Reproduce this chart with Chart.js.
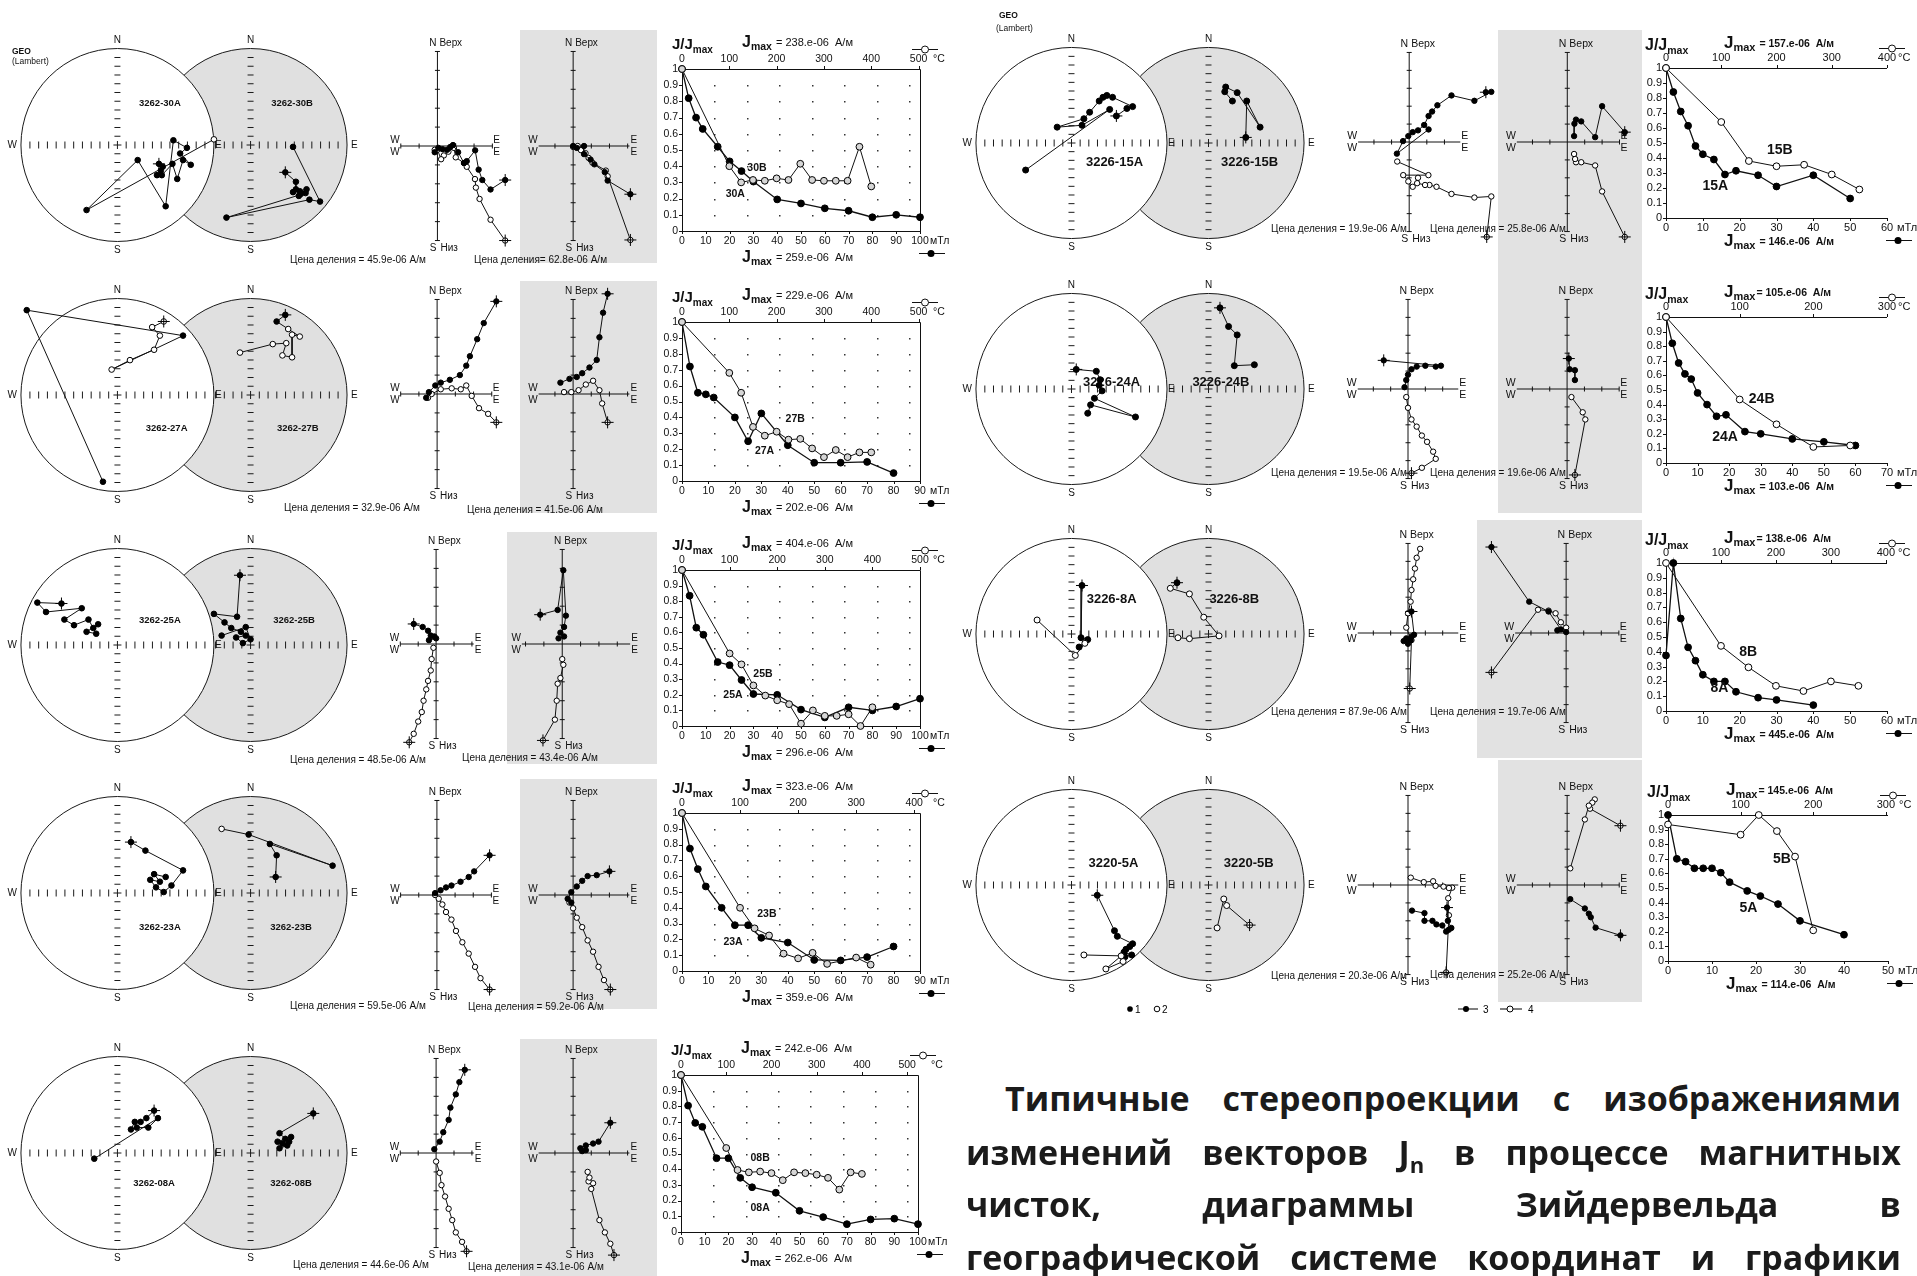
<!DOCTYPE html>
<html lang="ru">
<head>
<meta charset="utf-8">
<title>Стереопроекции, диаграммы Зийдервельда и кривые размагничивания</title>
<script src="https://cdn.jsdelivr.net/npm/chart.js@4.4.1/dist/chart.umd.min.js"></script>
<style>
html,body{margin:0;padding:0;background:#fff}
body{position:relative;width:1917px;height:1276px;overflow:hidden;font-family:"Liberation Sans",Arial,sans-serif;color:#111}
canvas,.abs{position:absolute}
.gray{background:#e2e2e2}
.cena{font-size:10px;white-space:nowrap;line-height:12px}
.geo{font-size:8.5px;line-height:10px;white-space:nowrap}
.para{position:absolute;left:966px;width:935px;font-family:"Open Sans","Noto Sans",sans-serif;font-weight:700;font-size:34px;line-height:50px;height:50px;white-space:nowrap;text-align:justify;text-align-last:justify;color:#1b1b1b}
.para sub{font-size:22px;line-height:0}
</style>
</head>
<body>
<script>
const FONT = '"Liberation Sans", Arial, sans-serif';

// ---------- stereonets: [x, y, lower hemisphere?] in units of the net radius, first = NRM ----------
const st30A = [[0.43,-0.20,1],[0.47,-0.23,1],[0.45,-0.27,1],[0.41,-0.32,1],[0.46,-0.32,1],[0.57,-0.20,1],[0.62,-0.36,1],[0.68,-0.16,1],[0.76,-0.21,1],[0.65,-0.09,1],[0.72,-0.03,1],[0.58,0.05,1],[0.50,-0.65,1],[0.21,-0.16,1],[-0.32,-0.69,1],[1.0,0.06,0]];
const st30B = [[0.36,-0.29,1],[0.47,-0.39,1],[0.47,-0.47,1],[0.51,-0.49,1],[0.44,-0.50,1],[0.58,-0.47,1],[0.52,-0.52,1],[0.50,-0.54,1],[0.57,-0.51,1],[-0.25,-0.77,1],[0.61,-0.58,1],[0.72,-0.60,1],[0.44,-0.02,1]];
const st27A = [[0.48,0.78,0],[0.36,0.72,0],[0.44,0.63,0],[0.38,0.48,0],[0.13,0.37,0],[-0.06,0.27,0],[0.68,0.63,1],[-0.94,0.90,1],[-0.15,-0.92,1]];
const st27B = [[0.36,0.85,1],[0.27,0.78,1],[0.39,0.70,0],[0.51,0.62,0],[0.43,0.64,0],[0.43,0.40,0],[0.33,0.42,0],[0.37,0.55,0],[0.23,0.54,0],[-0.11,0.45,0]];
const st25A = [[-0.58,0.44,1],[-0.83,0.45,1],[-0.74,0.35,1],[-0.37,0.39,1],[-0.55,0.27,1],[-0.45,0.21,1],[-0.30,0.27,1],[-0.25,0.18,1],[-0.22,0.12,1],[-0.32,0.14,1],[-0.20,0.22,1]];
const st25B = [[-0.11,0.74,1],[-0.14,0.30,1],[-0.38,0.33,1],[-0.27,0.24,1],[-0.20,0.18,1],[-0.10,0.14,1],[-0.05,0.10,1],[-0.15,0.08,1],[-0.08,0.02,1],[0.0,0.06,1],[-0.05,0.19,1],[-0.30,0.10,1]];
const st23A = [[0.14,0.54,1],[0.29,0.45,1],[0.68,0.24,1],[0.56,0.08,1],[0.48,0.01,1],[0.40,0.06,1],[0.34,0.14,1],[0.44,0.12,1],[0.38,0.20,1],[0.50,0.17,1]];
const st23B = [[0.26,0.17,1],[0.27,0.40,1],[0.20,0.52,1],[0.85,0.29,1],[-0.02,0.62,1],[-0.30,0.68,0]];
const st08A = [[0.38,0.45,1],[0.30,0.37,1],[0.24,0.33,1],[0.18,0.33,1],[0.14,0.25,1],[0.20,0.27,1],[0.32,0.27,1],[0.42,0.37,1],[-0.24,-0.06,1]];
const st08B = [[0.65,0.42,1],[0.30,0.21,1],[0.36,0.15,1],[0.40,0.12,1],[0.33,0.10,1],[0.28,0.12,1],[0.42,0.17,1],[0.38,0.08,1],[0.30,0.05,1]];
const st15A = [[0.47,0.29,1],[0.58,0.37,1],[0.64,0.39,1],[0.43,0.49,1],[0.37,0.51,1],[0.33,0.49,1],[0.29,0.45,1],[0.19,0.33,1],[0.13,0.26,1],[-0.15,0.17,1],[0.11,0.19,1],[0.40,0.36,1],[-0.48,-0.29,1]];
const st15B = [[0.39,0.06,1],[0.40,0.45,1],[0.54,0.17,1],[0.30,0.54,1],[0.18,0.60,1],[0.17,0.55,1],[0.25,0.45,1]];
const st24A = [[0.05,0.21,1],[0.26,0.19,1],[0.30,0.10,1],[0.29,0.04,1],[0.32,-0.02,1],[0.24,-0.10,1],[0.67,-0.30,1],[0.20,-0.17,1],[0.17,-0.26,1]];
const st24B = [[0.12,0.87,1],[0.21,0.67,1],[0.30,0.58,1],[0.27,0.25,1],[0.48,0.26,1]];
const st8A  = [[0.11,0.52,1],[0.10,-0.04,1],[0.17,-0.06,1],[0.08,-0.14,1],[0.14,-0.10,0],[0.04,-0.23,0],[-0.36,0.15,0]];
const st8B  = [[-0.33,0.55,1],[-0.40,0.49,0],[-0.20,0.43,0],[-0.05,0.18,0],[0.11,-0.02,0],[-0.20,-0.05,0],[-0.32,-0.04,0]];
const st5A  = [[0.27,-0.11,1],[0.45,-0.49,1],[0.48,-0.55,1],[0.64,-0.63,1],[0.61,-0.66,1],[0.57,-0.69,1],[0.55,-0.72,1],[0.63,-0.75,1],[0.56,-0.77,1],[0.54,-0.82,0],[0.36,-0.90,0],[0.52,-0.76,0],[0.13,-0.75,0]];
const st5B  = [[0.43,-0.43,0],[0.19,-0.22,0],[0.16,-0.15,0],[0.09,-0.46,0]];

// ---------- Zijderveld: horizontal (E, N) and vertical (E, Up) projections in scale divisions ----------
const zh30A = [[3.7,-1.8],[2.9,-2.3],[2.45,-1.8],[2.25,-1.25],[2.06,-0.23],[1.6,-0.8],[1.45,-0.9],[1.13,-0.33],[0.85,0.05],[0.7,-0.05],[0.53,-0.2],[0.28,-0.17],[0.05,-0.1],[-0.15,-0.33]];
const zv30A = [[3.7,-5.0],[2.9,-3.9],[2.3,-2.8],[2.1,-2.2],[2.05,-1.75],[1.6,-1.1],[1.45,-0.9],[1.0,-0.6],[0.9,-0.1],[0.6,-0.3],[0.35,-0.5],[0.2,-0.7],[0.0,-0.2],[-0.15,-0.2]];
const zh30B = [[3.15,-2.55],[1.9,-1.83],[1.74,-1.38],[1.17,-0.97],[0.96,-0.72],[0.6,-0.43],[0.6,0.0],[0.2,-0.1],[0.0,0.0]];
const zv30B = [[3.15,-4.97],[1.9,-1.6],[1.8,-1.3],[1.06,-0.88],[0.85,-0.63],[0.68,-0.38],[0.43,-0.22],[0.25,0.0],[0.0,-0.05]];
const zh27A = [[3.25,4.9],[2.56,3.75],[2.2,2.9],[1.8,2.0],[1.6,1.5],[1.25,1.0],[0.7,0.75],[0.2,0.6],[-0.1,0.45],[-0.45,0.1],[-0.6,-0.2]];
const zv27A = [[3.25,-1.5],[2.8,-1.05],[2.3,-0.75],[1.9,-0.1],[1.6,0.45],[1.3,0.25],[0.8,0.3],[0.2,0.25],[-0.3,0.0],[-0.5,-0.2]];
const zh27B = [[1.9,5.3],[1.65,4.3],[1.45,3.0],[1.3,1.8],[0.9,1.4],[0.5,1.1],[0.2,0.9],[-0.2,0.8],[-0.7,0.6]];
const zv27B = [[1.9,-1.5],[1.6,-0.5],[1.45,0.2],[1.1,0.7],[0.7,0.5],[0.3,0.2],[-0.1,0.1],[-0.5,0.1]];
const zh25A = [[-1.25,1.06],[-0.75,0.9],[-0.45,0.7],[-0.3,0.45],[-0.1,0.4],[-0.4,0.2],[0.0,0.3]];
const zv25A = [[-1.5,-5.2],[-1.25,-4.75],[-1.0,-4.1],[-0.8,-3.6],[-0.7,-3.0],[-0.55,-2.4],[-0.45,-1.95],[-0.3,-1.4],[-0.25,-0.8],[-0.15,-0.2]];
const zh25B = [[-1.2,1.55],[-0.25,1.8],[0.06,3.9],[0.2,1.5],[0.1,0.9],[-0.1,0.6],[0.1,0.4],[-0.2,0.3]];
const zv25B = [[-1.05,-5.1],[-0.4,-4.0],[-0.3,-3.0],[-0.25,-2.1],[-0.1,-1.8],[0.06,-1.1],[0.0,-0.8]];
const zh23A = [[2.9,2.1],[2.05,1.25],[1.75,0.95],[1.3,0.7],[0.8,0.5],[0.5,0.4],[0.2,0.25],[-0.1,0.1]];
const zv23A = [[2.9,-5.0],[2.4,-4.4],[2.1,-3.8],[1.75,-3.1],[1.4,-2.5],[1.05,-1.9],[0.8,-1.3],[0.5,-0.9],[0.3,-0.5],[0.1,-0.2],[-0.1,0.0]];
const zh23B = [[2.0,1.25],[1.3,1.05],[0.8,1.0],[0.5,0.75],[0.2,0.45],[-0.1,0.15],[-0.3,-0.2],[-0.1,-0.4]];
const zv23B = [[2.05,-5.0],[1.7,-4.5],[1.4,-3.8],[1.1,-3.0],[0.8,-2.4],[0.5,-1.7],[0.2,-1.2],[0.0,-0.7],[-0.2,-0.4]];
const zh08A = [[1.6,4.4],[1.3,3.75],[1.1,3.1],[0.8,2.4],[0.7,1.75],[0.4,1.1],[0.2,0.6],[-0.1,0.2]];
const zv08A = [[1.7,-5.2],[1.45,-4.7],[1.1,-4.2],[0.9,-3.55],[0.7,-2.95],[0.5,-2.3],[0.3,-1.7],[0.2,-1.05],[0.0,-0.45]];
const zh08B = [[2.05,1.6],[1.4,0.6],[1.1,0.5],[0.7,0.4],[0.4,0.25],[0.7,0.15],[0.5,0.1]];
const zv08B = [[2.25,-5.4],[2.05,-4.8],[1.75,-4.2],[1.45,-3.55],[1.0,-1.9],[1.1,-1.6],[0.85,-1.5],[0.9,-1.3],[0.8,-1.0]];
const zh15A = [[4.35,2.78],[4.66,2.8],[3.7,2.3],[2.4,2.6],[1.6,2.05],[1.3,1.7],[1.1,1.45],[0.85,0.95],[0.5,0.65],[0.2,0.55],[-0.05,0.33],[-0.35,0.05],[-0.7,-0.65],[1.1,0.7]];
const zv15A = [[4.4,-5.3],[4.66,-3.04],[3.7,-3.1],[2.4,-2.9],[1.55,-2.5],[1.15,-2.4],[0.9,-2.4],[0.45,-2.3],[0.5,-2.0],[0.2,-2.5],[-0.05,-2.2],[-0.34,-1.85],[1.09,-1.85],[-0.68,-1.09]];
const zh15B = [[3.3,0.55],[2.0,2.0],[1.6,0.27],[0.8,1.15],[0.5,1.25],[0.41,1.02],[0.39,0.33]];
const zv15B = [[3.3,-5.3],[2.0,-2.76],[1.6,-1.31],[0.8,-1.13],[0.5,-1.13],[0.45,-0.95],[0.39,-0.67]];
const zh24A = [[-1.4,1.6],[1.9,1.3],[1.6,1.25],[1.0,1.3],[0.5,1.25],[0.2,1.1],[0.0,0.8],[-0.1,0.5],[-0.2,0.1]];
const zv24A = [[0.2,-4.7],[0.8,-4.4],[1.6,-3.9],[1.45,-3.5],[1.1,-2.95],[0.8,-2.6],[0.5,-2.1],[0.2,-1.7],[0.0,-1.05],[-0.1,-0.45]];
const zh24B = [[0.1,1.7],[0.15,1.1],[0.45,1.05],[0.45,0.5]];
const zv24B = [[0.45,-4.8],[1.05,-1.7],[0.9,-1.3],[0.25,-0.45]];
const zh8A  = [[0.2,1.2],[0.35,-0.1],[0.2,-0.2],[-0.1,-0.3],[-0.25,-0.45],[0.0,-0.6],[0.15,-0.4]];
const zv8A  = [[0.1,-3.1],[0.2,-0.4],[-0.1,0.3],[0.0,1.1],[0.15,1.75],[0.2,2.4],[0.3,3.0],[0.4,3.6],[0.5,4.2],[0.7,4.7]];
const zh8B  = [[-4.25,4.8],[-2.1,1.75],[-1.0,1.2],[-0.3,0.2],[-0.5,0.15],[0.0,0.05]];
const zv8B  = [[-4.25,-2.2],[-1.6,1.3],[-1.0,1.25],[-0.6,1.1],[-0.3,0.6],[0.0,0.3]];
const zh5A  = [[2.25,-1.26],[2.3,-2.0],[2.5,-2.4],[2.35,-2.5],[2.2,-2.6],[1.98,-2.26],[1.64,-2.2],[1.41,-2.0],[0.95,-2.0],[0.95,-1.57],[0.23,-1.43]];
const zv5A  = [[2.2,-4.88],[2.36,-1.69],[2.32,-0.74],[2.55,-0.15],[2.36,-0.17],[2.05,-0.09],[1.59,-0.05],[1.45,0.21],[0.91,0.16],[0.16,0.41]];
const zh5B  = [[3.07,-2.81],[1.64,-2.38],[1.36,-1.8],[1.25,-1.6],[1.02,-1.31],[0.18,-0.79]];
const zv5B  = [[3.07,3.31],[1.32,4.26],[1.59,4.78],[1.45,4.6],[1.25,4.43],[1.02,3.66],[0.18,0.93]];

// ---------- demagnetisation curves: A = alternating field [mT, J/Jmax], B = thermal [°C, J/Jmax] ----------
const af30A = [[0,1],[2.8,0.82],[5.9,0.70],[8.7,0.63],[15,0.52],[20,0.43],[25,0.37],[30,0.305],[40,0.195],[50,0.17],[60,0.14],[70,0.125],[80,0.085],[90,0.10],[100,0.085]];
const th30B = [[0,1],[100,0.40],[125,0.30],[150,0.315],[175,0.31],[200,0.325],[225,0.315],[250,0.415],[275,0.315],[300,0.31],[325,0.31],[350,0.31],[375,0.52],[400,0.275]];
const af27A = [[0,1],[3,0.72],[6,0.555],[9,0.545],[12,0.525],[20,0.40],[25,0.25],[30,0.425],[40,0.225],[50,0.115],[60,0.115],[70,0.12],[80,0.05]];
const th27B = [[0,1],[100,0.68],[125,0.555],[150,0.34],[175,0.285],[200,0.31],[225,0.26],[250,0.265],[275,0.205],[300,0.15],[325,0.195],[350,0.15],[375,0.18],[400,0.18]];
const af25A = [[0,1],[3.2,0.835],[6,0.63],[9,0.585],[15,0.41],[20,0.39],[25,0.295],[30,0.205],[40,0.20],[50,0.105],[60,0.055],[70,0.12],[80,0.10],[90,0.125],[100,0.175]];
const th25B = [[0,1],[100,0.465],[125,0.395],[150,0.26],[175,0.195],[200,0.165],[225,0.14],[250,0.015],[275,0.10],[300,0.065],[325,0.065],[350,0.075],[375,0.0],[400,0.12]];
const af23A = [[0,1],[3,0.775],[6,0.645],[9,0.535],[15,0.40],[20,0.29],[25,0.29],[30,0.21],[40,0.18],[50,0.07],[60,0.067],[70,0.088],[80,0.155]];
const th23B = [[0,1],[100,0.40],[125,0.27],[150,0.225],[175,0.11],[200,0.08],[225,0.115],[250,0.045],[300,0.085],[325,0.04]];
const af08A = [[0,1],[3,0.805],[6,0.695],[9,0.67],[15,0.47],[20,0.47],[25,0.345],[30,0.285],[40,0.25],[50,0.135],[60,0.095],[70,0.05],[80,0.08],[90,0.085],[100,0.05]];
const th08B = [[0,1],[100,0.535],[125,0.395],[150,0.38],[175,0.385],[200,0.375],[225,0.33],[250,0.38],[275,0.375],[300,0.365],[325,0.345],[350,0.27],[375,0.38],[400,0.37]];
const af15A = [[0,1],[2,0.84],[4,0.71],[6,0.615],[8,0.48],[10,0.425],[13,0.39],[16,0.29],[19,0.315],[25,0.285],[30,0.21],[40,0.285],[50,0.13]];
const th15B = [[0,1],[100,0.64],[150,0.38],[200,0.345],[250,0.355],[300,0.29],[350,0.19]];
const af24A = [[0,1],[2,0.82],[4,0.685],[6,0.61],[8,0.575],[10,0.48],[13,0.40],[16,0.32],[19,0.33],[25,0.215],[30,0.20],[40,0.165],[50,0.145],[60,0.12]];
const th24B = [[0,1],[100,0.435],[150,0.265],[200,0.11],[250,0.12]];
const af8A  = [[0,0.375],[2,1.0],[4,0.625],[6,0.43],[8,0.34],[10,0.245],[13,0.20],[16,0.20],[19,0.13],[25,0.09],[30,0.075],[40,0.04]];
const th8B  = [[0,1],[100,0.44],[150,0.295],[200,0.17],[250,0.135],[300,0.20],[350,0.17]];
const af5A  = [[0,1],[2,0.70],[4,0.68],[6,0.635],[8,0.635],[10,0.635],[12,0.605],[14,0.54],[18,0.48],[21,0.445],[25,0.39],[30,0.275],[40,0.18]];
const th5B  = [[0,0.935],[100,0.865],[125,1.0],[150,0.89],[175,0.715],[200,0.21]];

// ---------- labels and scale values ----------
const specimens = [['3262-30A','3262-30B'],['3262-27A','3262-27B'],['3262-25A','3262-25B'],['3262-23A','3262-23B'],['3262-08A','3262-08B'],
                   ['3226-15A','3226-15B'],['3226-24A','3226-24B'],['3226-8A','3226-8B'],['3220-5A','3220-5B']];
const curveNames = [['30A','30B'],['27A','27B'],['25A','25B'],['23A','23B'],['08A','08B'],['15A','15B'],['24A','24B'],['8A','8B'],['5A','5B']];
const jmaxAF = ['259','202','296','359','262','146','103','445','114'];   // e-06 A/m
const jmaxTH = ['238','229','404','323','242','157','105','138','145'];
const cenaA  = ['45.9','32.9','48.5','59.5','44.6','19.9','19.5','87.9','20.3'];  // e-06 A/m per division
const cenaB  = ['62.8','41.5','43.4','59.2','43.1','25.8','19.6','19.7','25.2'];
const fieldMax = [100,90,100,90,100,60,70,60,50];     // mT axis end
const tempTicksEnd = [500,500,500,400,500,400,300,400,300];

const stereoSets = [[st30A,st30B],[st27A,st27B],[st25A,st25B],[st23A,st23B],[st08A,st08B],[st15A,st15B],[st24A,st24B],[st8A,st8B],[st5A,st5B]];
const zijSets = [[[zh30A,zv30A],[zh30B,zv30B]],[[zh27A,zv27A],[zh27B,zv27B]],[[zh25A,zv25A],[zh25B,zv25B]],[[zh23A,zv23A],[zh23B,zv23B]],[[zh08A,zv08A],[zh08B,zv08B]],
                 [[zh15A,zv15A],[zh15B,zv15B]],[[zh24A,zv24A],[zh24B,zv24B]],[[zh8A,zv8A],[zh8B,zv8B]],[[zh5A,zv5A],[zh5B,zv5B]]];
const curveSets = [[af30A,th30B],[af27A,th27B],[af25A,th25B],[af23A,th23B],[af08A,th08B],[af15A,th15B],[af24A,th24B],[af8A,th8B],[af5A,th5B]];

// ---------- page layout (pixels) ----------
const LAYOUT = [
 {st:{cxA:115,cxB:253,cy:145,r:100,lab:[[0.44,0.44],[0.43,0.44]]}, z1:{ox:436,oy:146,u:20,xr:[-2,3]}, z2:{ox:572,oy:146,u:20,xr:[-1.9,3.1]}, gray:[520,30,137,233],
  dm:{L:682,R:920,T:69,B:231,tMax:503,lab:[[22.4,0.23],[31.5,0.39]]}, cena:[[290,254],[474,254]], eqB:'='},
 {st:{cxA:115,cxB:253,cy:395,r:100,lab:[[0.51,-0.35],[0.49,-0.35]]}, z1:{ox:436,oy:394,u:20,xr:[-2,3]}, z2:{ox:572,oy:394,u:20,xr:[-1.9,3.1]}, gray:[520,281,137,232],
  dm:{L:682,R:920,T:322,B:481,tMax:503,lab:[[31.2,0.19],[42.8,0.39]]}, cena:[[284,502],[467,504]]},
 {st:{cxA:115,cxB:253,cy:645,r:100,lab:[[0.44,0.26],[0.45,0.26]]}, z1:{ox:436,oy:644,u:20,xr:[-2,2.1]}, z2:{ox:561,oy:644,u:20,xr:[-2.2,3.7]}, gray:[507,532,150,232],
  dm:{L:682,R:920,T:570,B:726,tMax:500,lab:[[21.4,0.2],[34,0.335]]}, cena:[[290,754],[462,752]]},
 {st:{cxA:115,cxB:253,cy:893,r:100,lab:[[0.44,-0.36],[0.42,-0.36]]}, z1:{ox:436,oy:895,u:20,xr:[-2,3]}, z2:{ox:572,oy:895,u:20,xr:[-1.9,3.1]}, gray:[520,779,137,230],
  dm:{L:682,R:920,T:813,B:971,tMax:410,lab:[[19.3,0.18],[32.1,0.36]]}, cena:[[290,1000],[468,1001]]},
 {st:{cxA:115,cxB:253,cy:1153,r:100,lab:[[0.38,-0.32],[0.42,-0.32]]}, z1:{ox:436,oy:1153,u:20,xr:[-2,2.1]}, z2:{ox:572,oy:1153,u:20,xr:[-1.9,3.1]}, gray:[520,1039,137,237],
  dm:{L:681,R:918,T:1075,B:1232,tMax:524,lab:[[33.4,0.15],[33.4,0.47]]}, cena:[[293,1259],[468,1261]]},
 {st:{cxA:1069,cxB:1211,cy:143,r:99,lab:[[0.45,-0.21],[0.43,-0.21]]}, z1:{ox:1408,oy:142,u:19,xr:[-2.9,2.9]}, z2:{ox:1567,oy:142,u:19,xr:[-2.9,3]}, gray:[1498,30,144,245],
  dm:{L:1666,R:1887,T:68,B:218,tMax:400,lab:[[13.4,0.21],[30.9,0.45]]}, cena:[[1271,223],[1430,223]], big:true},
 {st:{cxA:1069,cxB:1211,cy:389,r:99,lab:[[0.42,0.07],[0.13,0.07]]}, z1:{ox:1408,oy:389,u:19,xr:[-2.9,2.9]}, z2:{ox:1567,oy:389,u:19,xr:[-2.9,3]}, gray:[1498,271,144,242],
  dm:{L:1666,R:1887,T:317,B:463,tMax:300,lab:[[18.7,0.18],[30.3,0.44]]}, cena:[[1271,467],[1430,467]], big:true, eqT:'='},
 {st:{cxA:1069,cxB:1211,cy:634,r:99,lab:[[0.42,0.37],[0.27,0.37]]}, z1:{ox:1408,oy:633,u:19,xr:[-2.9,2.9]}, z2:{ox:1567,oy:633,u:19,xr:[-2.9,3]}, gray:[1477,520,165,238],
  dm:{L:1666,R:1887,T:563,B:711,tMax:402,lab:[[14.5,0.157],[22.3,0.40]]}, cena:[[1271,706],[1430,706]], big:true, eqT:'='},
 {st:{cxA:1069,cxB:1211,cy:885,r:99,lab:[[0.44,0.23],[0.42,0.23]]}, z1:{ox:1408,oy:885,u:19,xr:[-2.9,2.9]}, z2:{ox:1567,oy:885,u:19,xr:[-2.9,3]}, gray:[1498,760,144,242],
  dm:{L:1668,R:1888,T:815,B:961,tMax:303,lab:[[18.3,0.365],[25.9,0.70]]}, cena:[[1271,970],[1430,969]], big:true, eqT:'='}
];

// ---------- helpers ----------
function addDiv(cls, x, y, html, style){
  const d = document.createElement('div');
  d.className = 'abs ' + (cls || '');
  d.style.left = x + 'px'; d.style.top = y + 'px';
  if (style) Object.assign(d.style, style);
  d.innerHTML = html;
  document.body.appendChild(d);
  return d;
}
function newCanvas(x, y, w, h){
  const c = document.createElement('canvas');
  c.width = w; c.height = h;
  Object.assign(c.style, {left:x+'px', top:y+'px', width:w+'px', height:h+'px'});
  document.body.appendChild(c);
  return c;
}
const lin = (min, max, axis, position) => ({type:'linear', display:false, min, max, bounds:'data', axis, position});
function makeChart(canvas, scales, datasets, plugin, padding){
  return new Chart(canvas, {
    type:'scatter',
    data:{datasets},
    options:{responsive:false, maintainAspectRatio:false, animation:false, devicePixelRatio:1, events:[],
      layout:{padding:padding || 0},
      plugins:{legend:{display:false}, tooltip:{enabled:false}},
      elements:{line:{tension:0}},
      scales},
    plugins:[plugin]
  });
}
function series(pts, xid, fill, radius, lw, order){
  return {data:pts.map(p => ({x:p[0], y:p[1]})), xAxisID:xid, yAxisID:'y', showLine:true,
    borderColor:'#111', borderWidth:lw, pointRadius:radius, pointBorderColor:'#000', pointBorderWidth:1,
    pointBackgroundColor:fill, clip:false, order};
}
function nrmCross(p, xid, size){
  return {data:[{x:p[0], y:p[1]}], xAxisID:xid, yAxisID:'y', showLine:false, pointStyle:'cross',
    pointRadius:size, pointBorderColor:'#000', pointBorderWidth:1, borderColor:'#000', clip:false, order:0};
}

// ---------- stereonet pair (A white, B shaded) ----------
function stereoPlugin(S, names, big){
  return {id:'stereo', beforeDatasetsDraw(ch){
    const ctx = ch.ctx, XA = ch.scales.xa, XB = ch.scales.xb, Y = ch.scales.y;
    const ax = XA.getPixelForValue(0), bx = XB.getPixelForValue(0), cy = Y.getPixelForValue(0);
    const r = XA.getPixelForValue(1) - ax;
    ctx.save();
    ctx.lineWidth = 1; ctx.strokeStyle = '#1a1a1a';
    const net = (x, fill) => {
      ctx.beginPath(); ctx.arc(x, cy, r, 0, Math.PI*2); ctx.fillStyle = fill; ctx.fill();
      ctx.beginPath();
      for (let k = 1; k <= 10; k++){
        const d = k * 0.0907 * r;
        for (const s of [-1, 1]){
          ctx.moveTo(x + s*d, cy - 3.5); ctx.lineTo(x + s*d, cy + 3.5);
          ctx.moveTo(x - 3, cy + s*d); ctx.lineTo(x + 3, cy + s*d);
        }
      }
      ctx.moveTo(x - 4, cy); ctx.lineTo(x + 4, cy); ctx.moveTo(x, cy - 4); ctx.lineTo(x, cy + 4);
      ctx.stroke();
      ctx.beginPath(); ctx.arc(x, cy, r, 0, Math.PI*2); ctx.stroke();
    };
    net(bx, '#e0e0e0');
    net(ax, '#ffffff');
    ctx.fillStyle = '#111'; ctx.font = '10px ' + FONT; ctx.textBaseline = 'middle';
    ctx.textAlign = 'center';
    for (const x of [ax, bx]){ ctx.fillText('N', x, cy - r - 8); ctx.fillText('S', x, cy + r + 9); }
    ctx.textAlign = 'right'; ctx.fillText('W', ax - r - 4, cy);
    ctx.textAlign = 'left'; ctx.fillText('E', ax + r + 1, cy); ctx.fillText('E', bx + r + 4, cy);
    ctx.font = 'bold ' + (big ? 13 : 9.5) + 'px ' + FONT; ctx.textAlign = 'center';
    ctx.fillText(names[0], XA.getPixelForValue(S.lab[0][0]), Y.getPixelForValue(S.lab[0][1]));
    ctx.fillText(names[1], XB.getPixelForValue(S.lab[1][0]), Y.getPixelForValue(S.lab[1][1]));
    ctx.restore();
  }};
}
function drawStereo(S, ptsA, ptsB, names, big){
  const {cxA, cxB, cy, r} = S;
  const bx = Math.round(cxA - r - 30), by = Math.round(cy - r - 22);
  const bw = Math.round(cxB + r + 30) - bx, bh = Math.round(cy + r + 22) - by;
  const c = newCanvas(bx, by, bw, bh);
  const scales = {
    xa: lin((bx - cxA)/r, (bx + bw - cxA)/r, 'x', 'bottom'),
    xb: lin((bx - cxB)/r, (bx + bw - cxB)/r, 'x', 'bottom'),
    y:  lin((cy - by - bh)/r, (cy - by)/r, 'y', 'left')
  };
  const fills = pts => pts.map(p => p[2] ? '#000' : '#fff');
  const rad = big ? 3 : 2.8;
  makeChart(c, scales, [
    nrmCross(ptsA[0], 'xa', 6), nrmCross(ptsB[0], 'xb', 6),
    series(ptsA, 'xa', fills(ptsA), rad, 1, 1), series(ptsB, 'xb', fills(ptsB), rad, 1, 1)
  ], stereoPlugin(S, names, big));
}

// ---------- Zijderveld diagram ----------
function zijPlugin(Z, big){
  return {id:'zij', beforeDatasetsDraw(ch){
    const ctx = ch.ctx, X = ch.scales.x, Y = ch.scales.y;
    const ox = X.getPixelForValue(0), oy = Y.getPixelForValue(0);
    const top = Y.getPixelForValue(5), bot = Y.getPixelForValue(-5);
    const l = X.getPixelForValue(Z.xr[0]), r = X.getPixelForValue(Z.xr[1]);
    ctx.save(); ctx.strokeStyle = '#111'; ctx.lineWidth = 1;
    ctx.beginPath();
    ctx.moveTo(ox, top); ctx.lineTo(ox, bot); ctx.moveTo(l, oy); ctx.lineTo(r, oy);
    for (let k = -5; k <= 5; k++){ if (!k) continue; const y = Y.getPixelForValue(k); ctx.moveTo(ox - 2.5, y); ctx.lineTo(ox + 2.5, y); }
    for (let k = Math.ceil(Z.xr[0]); k <= Z.xr[1]; k++){ if (!k) continue; const x = X.getPixelForValue(k); ctx.moveTo(x, oy - 2.5); ctx.lineTo(x, oy + 2.5); }
    ctx.stroke();
    ctx.fillStyle = '#111'; ctx.font = (big ? 10.5 : 10) + 'px ' + FONT; ctx.textBaseline = 'middle';
    ctx.textAlign = 'right'; ctx.fillText('N', ox - 1, top - 8); ctx.fillText('S', ox - 1, bot + 8);
    ctx.fillText('W', l - 1, oy - 6); ctx.fillText('W', l - 1, oy + 6);
    ctx.textAlign = 'left'; ctx.fillText('Верх', ox + 2, top - 8); ctx.fillText('Низ', ox + 3, bot + 8);
    ctx.fillText('E', r + 1, oy - 6); ctx.fillText('E', r + 1, oy + 6);
    ctx.restore();
  }};
}
function drawZij(Z, hor, ver, big){
  const {ox, oy, u, xr} = Z;
  const xs = hor.concat(ver).map(p => p[0]);
  const lo = Math.min(xr[0], ...xs) - 1.3, hi = Math.max(xr[1], ...xs) + 1.3;
  const bx = Math.round(ox + lo*u), by = Math.round(oy - 6.4*u);
  const bw = Math.round(ox + hi*u) - bx, bh = Math.round(oy + 6.4*u) - by;
  const c = newCanvas(bx, by, bw, bh);
  const scales = {x: lin((bx - ox)/u, (bx + bw - ox)/u, 'x', 'bottom'), y: lin((oy - by - bh)/u, (oy - by)/u, 'y', 'left')};
  makeChart(c, scales, [
    nrmCross(hor[0], 'x', 6), nrmCross(ver[0], 'x', 6),
    series(hor, 'x', '#000', 2.7, 1, 1), series(ver, 'x', '#fff', 2.7, 1, 1)
  ], zijPlugin(Z, big));
}

// ---------- demagnetisation curves ----------
function jmaxLabel(ctx, x, y, val, big, eq){
  ctx.textAlign = 'left'; ctx.textBaseline = 'alphabetic';
  ctx.font = 'bold ' + (big ? 17 : 16) + 'px ' + FONT; ctx.fillText('J', x, y);
  let w = ctx.measureText('J').width;
  ctx.font = 'bold ' + (big ? 11 : 10.5) + 'px ' + FONT; ctx.fillText('max', x + w, y + 3);
  w += ctx.measureText('max').width;
  ctx.font = (big ? 'bold 10.5px ' : '11px ') + FONT; ctx.fillText((eq || ' =') + ' ' + val + '.e-06  А/м', x + w + 1, y - 1);
}
function demagPlugin(D, xMax, tEnd, names, jTop, jBot, big, eqTop){
  const fs = (big ? 11 : 10.5) + 'px ' + FONT;
  return {id:'demag',
    beforeDatasetsDraw(ch){
      const ctx = ch.ctx, X = ch.scales.x, T2 = ch.scales.x2, Y = ch.scales.y, a = ch.chartArea;
      const L = a.left, R = a.right, T = a.top, B = a.bottom;
      ctx.save(); ctx.strokeStyle = '#111'; ctx.fillStyle = '#111'; ctx.lineWidth = 1;
      ctx.beginPath();
      if (!big){
        ctx.rect(L + 0.5, T + 0.5, R - L, B - T);
      } else {
        ctx.moveTo(L + 0.5, T); ctx.lineTo(L + 0.5, B + 0.5); ctx.lineTo(R, B + 0.5);
        ctx.moveTo(L, T + 0.5); ctx.lineTo(R, T + 0.5);
      }
      for (let j = 0; j <= 10; j++){ const y = Math.round(Y.getPixelForValue(j/10)) + 0.5; ctx.moveTo(L - 3, y); ctx.lineTo(L, y); }
      for (let m = 0; m <= xMax; m += 10){ const x = Math.round(X.getPixelForValue(m)) + 0.5; ctx.moveTo(x, B); ctx.lineTo(x, B + 3); }
      for (let t = 0; t <= tEnd; t += 100){ const x = Math.round(T2.getPixelForValue(t)) + 0.5; ctx.moveTo(x, T); ctx.lineTo(x, T - 3); }
      ctx.stroke();
      if (!big){
        ctx.fillStyle = '#333';
        for (let i = 1; i <= 7; i++){
          const x = Math.round(L + (R - L) * 0.1365 * i);
          for (let j = 1; j <= 9; j++) ctx.fillRect(x, Math.round(Y.getPixelForValue(j/10)), 1.5, 1.5);
        }
        ctx.fillStyle = '#111';
      }
      ctx.font = fs; ctx.textBaseline = 'middle';
      ctx.textAlign = 'right';
      for (let j = 0; j <= 10; j++) ctx.fillText(j === 0 ? '0' : j === 10 ? '1' : (j/10).toFixed(1), L - 4, Y.getPixelForValue(j/10));
      ctx.textAlign = 'center';
      for (let m = 0; m <= xMax; m += 10) ctx.fillText(String(m), X.getPixelForValue(m), B + 10);
      for (let t = 0; t <= tEnd; t += 100) ctx.fillText(String(t), T2.getPixelForValue(t), T - 10);
      ctx.textAlign = 'left';
      ctx.fillText('мТл', R + 10, B + 10);
      ctx.fillText('°C', R + (big ? 11 : 13), T - 10);
      // legend marks for the two axes
      ctx.beginPath(); ctx.moveTo(R - 8, T - 19.5); ctx.lineTo(R + 18, T - 19.5); ctx.stroke();
      ctx.beginPath(); ctx.arc(R + 5, T - 19.5, 3.5, 0, Math.PI*2); ctx.fillStyle = '#fff'; ctx.fill(); ctx.stroke();
      ctx.beginPath(); ctx.moveTo(R - 1, B + 22.5); ctx.lineTo(R + 25, B + 22.5); ctx.stroke();
      ctx.beginPath(); ctx.arc(R + 11, B + 22.5, 3.5, 0, Math.PI*2); ctx.fillStyle = '#000'; ctx.fill();
      ctx.fillStyle = '#111';
      // title and Jmax captions
      ctx.textAlign = 'left'; ctx.textBaseline = 'alphabetic';
      const tx = big ? L - 21 : L - 10, ty = big ? T - 18 : T - 20;
      ctx.font = 'bold ' + (big ? 16 : 15) + 'px ' + FONT; ctx.fillText('J/J', tx, ty);
      const w = ctx.measureText('J/J').width;
      ctx.font = 'bold ' + (big ? 10.5 : 10) + 'px ' + FONT; ctx.fillText('max', tx + w, ty + 4);
      jmaxLabel(ctx, L + (big ? 58 : 60), T - (big ? 20 : 22), jTop, big, eqTop);
      jmaxLabel(ctx, L + (big ? 58 : 60), B + (big ? 28 : 31), jBot, big);
      ctx.restore();
    },
    afterDatasetsDraw(ch){
      const ctx = ch.ctx, X = ch.scales.x, Y = ch.scales.y;
      ctx.save(); ctx.fillStyle = '#111';
      ctx.font = 'bold ' + (big ? 14 : 10.5) + 'px ' + FONT; ctx.textAlign = 'center'; ctx.textBaseline = 'middle';
      ctx.fillText(names[0], X.getPixelForValue(D.lab[0][0]), Y.getPixelForValue(D.lab[0][1]));
      ctx.fillText(names[1], X.getPixelForValue(D.lab[1][0]), Y.getPixelForValue(D.lab[1][1]));
      ctx.restore();
    }};
}
function drawDemag(i){
  const D = LAYOUT[i].dm, big = !!LAYOUT[i].big, P = 52;
  const c = newCanvas(D.L - P, D.T - P, D.R - D.L + 2*P, D.B - D.T + 2*P);
  const scales = {x: lin(0, fieldMax[i], 'x', 'bottom'), x2: lin(0, D.tMax, 'x', 'top'), y: lin(0, 1, 'y', 'left')};
  const [af, th] = curveSets[i];
  makeChart(c, scales, [
    series(th, 'x2', big ? '#fff' : '#d6d6d6', 3.4, 1, 0),
    series(af, 'x', '#000', 3.4, 1.3, 1)
  ], demagPlugin(D, fieldMax[i], tempTicksEnd[i], curveNames[i], jmaxTH[i], jmaxAF[i], big, LAYOUT[i].eqT), {left:P, right:P, top:P, bottom:P});
}

// ---------- build page ----------
Chart.defaults.font.family = FONT;
LAYOUT.forEach(row => { const g = row.gray; addDiv('gray', g[0], g[1], '', {width:g[2]+'px', height:g[3]+'px'}); });
LAYOUT.forEach((row, i) => {
  const big = !!row.big;
  drawStereo(row.st, stereoSets[i][0], stereoSets[i][1], specimens[i], big);
  drawZij(row.z1, zijSets[i][0][0], zijSets[i][0][1], big);
  drawZij(row.z2, zijSets[i][1][0], zijSets[i][1][1], big);
  drawDemag(i);
  addDiv('cena', row.cena[0][0], row.cena[0][1], 'Цена деления = ' + cenaA[i] + 'e-06 А/м');
  addDiv('cena', row.cena[1][0], row.cena[1][1], 'Цена деления' + (row.eqB === '=' ? '= ' : ' = ') + cenaB[i] + 'e-06 А/м');
});

addDiv('geo', 12, 46, '<b>GEO</b><br>(Lambert)');
addDiv('geo', 996, 10, '<b style="margin-left:3px">GEO</b><br><span style="line-height:16px">(Lambert)</span>');

// symbol legend
addDiv('', 1124, 1002, '<svg width="50" height="14" font-family="Liberation Sans, Arial" font-size="10"><circle cx="6" cy="7" r="2.8" fill="#000"/><text x="11" y="11">1</text><circle cx="33" cy="7" r="2.8" fill="#fff" stroke="#000"/><text x="38" y="11">2</text></svg>');
addDiv('', 1456, 1002, '<svg width="86" height="14" font-family="Liberation Sans, Arial" font-size="10"><line x1="2" y1="7" x2="22" y2="7" stroke="#000"/><circle cx="10" cy="7" r="3" fill="#000"/><text x="27" y="11">3</text><line x1="44" y1="7" x2="66" y2="7" stroke="#000"/><circle cx="54" cy="7" r="3" fill="#fff" stroke="#000"/><text x="72" y="11">4</text></svg>');

// caption
const caption = ['Типичные стереопроекции с изображениями', 'изменений векторов J<sub>n</sub> в процессе магнитных', 'чисток, диаграммы Зийдервельда в', 'географической системе координат и графики'];
const capTop = [1073, 1127, 1179, 1232];
caption.forEach((t, k) => {
  const d = document.createElement('div');
  d.className = 'para'; d.style.top = capTop[k] + 'px';
  if (k === 0){ d.style.left = '1005px'; d.style.width = '896px'; }
  d.innerHTML = t;
  document.body.appendChild(d);
});
</script>
</body>
</html>
